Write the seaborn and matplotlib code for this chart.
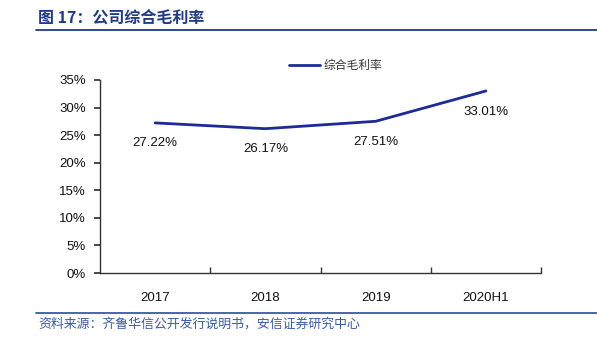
import matplotlib
matplotlib.use("Agg")
import matplotlib.pyplot as plt
import seaborn as sns
import pandas as pd
from matplotlib.ticker import FuncFormatter, FixedLocator
from matplotlib.lines import Line2D

categories = ["2017", "2018", "2019", "2020H1"]
margin = [27.22, 26.17, 27.51, 33.01]
series_name = "综合毛利率"
title = "图 17：公司综合毛利率"
source = "资料来源：齐鲁华信公开发行说明书，安信证券研究中心"

sns.set_theme(style="white")
plt.rcParams['font.family'] = ['Liberation Sans', 'Noto Sans CJK SC', 'DejaVu Sans']

df = pd.DataFrame({"year": categories, "value": margin})

fig = plt.figure(figsize=(5.97, 3.42), dpi=100)
ax = fig.add_axes([100/597, 1-273/342, 441/597, 193/342])

line_color = "#1C2A9A"
sns.lineplot(data=df, x="year", y="value", ax=ax, color=line_color, linewidth=2, legend=False)

ax.set_xlim(-0.5, 3.5)
ax.set_ylim(0, 35)
ax.yaxis.set_major_locator(FixedLocator([0, 5, 10, 15, 20, 25, 30, 35]))
ax.yaxis.set_major_formatter(FuncFormatter(lambda v, p: f"{v:.0f}%"))
ax.set_xlabel("")
ax.set_ylabel("")

for i, v in enumerate(margin):
    ax.annotate(f"{v:.2f}%", (i, v), xytext=(0, -10.5), textcoords="offset points",
                ha="center", va="top", fontsize=9.5, color="#111111")

for s in ["top", "right"]:
    ax.spines[s].set_visible(False)
for s in ["left", "bottom"]:
    ax.spines[s].set_color("#333333")
    ax.spines[s].set_linewidth(1.0)

ax.tick_params(axis="y", which="major", left=True, length=4, direction="out", color="#333333",
               labelsize=9.5, labelcolor="#111111", pad=6)
ax.set_xticks(range(len(categories)))
ax.set_xticklabels(categories)
ax.tick_params(axis="x", which="major", bottom=False, labelsize=9.5, labelcolor="#111111", pad=8)
ax.set_xticks([0.5, 1.5, 2.5, 3.5], minor=True)
ax.tick_params(axis="x", which="minor", bottom=True, length=4, direction="in", color="#333333")

handle = Line2D([0], [0], color=line_color, linewidth=2)
leg = ax.legend([handle], [series_name], loc="upper center", bbox_to_anchor=(0.535, 1.165),
                frameon=False, fontsize=8.5, handlelength=2.6, handletextpad=0.3)
for t in leg.get_texts():
    t.set_color("#333333")
    t.set_family(['Noto Sans CJK SC', 'DejaVu Sans'])

title_color = "#1F3A8A"
fig.text(38/597, 1-18/342, title, fontsize=11.5, fontweight="bold", color=title_color,
         va="center", ha="left", family=['Noto Sans CJK SC', 'DejaVu Sans'])
fig.add_artist(Line2D([36/597, 1.0], [1-30/342, 1-30/342], color=title_color, linewidth=1.3))
fig.add_artist(Line2D([36/597, 1.0], [1-313/342, 1-313/342], color="#3A5BA8", linewidth=1.3))
fig.text(38/597, 1-324/342, source, fontsize=9.3, style="italic", color="#3A5BA8",
         va="center", ha="left", family=['Noto Sans CJK SC', 'DejaVu Sans'])

fig.savefig("out.png", dpi=100)
